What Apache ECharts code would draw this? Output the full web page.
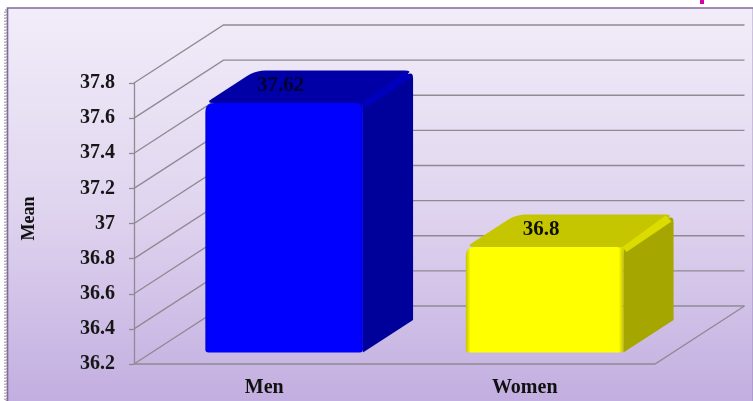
<!DOCTYPE html>
<html>
<head>
<meta charset="utf-8">
<style>html,body{margin:0;padding:0;background:#fff}#chart{width:753px;height:401px}</style>
<script src="https://cdn.jsdelivr.net/npm/echarts@6/dist/echarts.min.js"></script>
</head>
<body>
<div id="chart"></div>
<script>
// Mean value by group, shown as extruded columns in a box-shaped plot
const categories = ['Men', 'Women'];
const meanValues = [37.62, 36.8];
const tickValues = [36.2, 36.4, 36.6, 36.8, 37, 37.2, 37.4, 37.6, 37.8];

const FONT = '"Liberation Serif", "DejaVu Serif", serif';
const DEPTH_X = 89.5, DEPTH_Y = -58;     // front-to-back offset of the plot box
const BAR_NEAR = 0.2, BAR_FAR = 0.76;    // column extent along the depth, as fractions of it
const BAR_WIDTH = 0.605;                 // column width, as a fraction of a category band
const BAR_NUDGE = 2;                     // sideways shift of the columns within their band

const palettes = [
  { edge: '#0000e6', front: '#0000ff', top: '#0000a6', side: '#00009a', ridge: '#0000bc', label: '#000030' },
  { edge: '#c4c400', front: '#ffff00', top: '#c6c600', side: '#a6a600', ridge: '#dcdc00', label: '#111100' }
];

// Polygon whose corners are replaced by short quadratic arcs
function rounded(points, radii) {
  const out = [];
  const n = points.length;
  for (let i = 0; i < n; i++) {
    const p = points[i], a = points[(i + n - 1) % n], b = points[(i + 1) % n];
    const r = radii[i];
    if (!r) { out.push(p); continue; }
    const la = Math.hypot(a[0] - p[0], a[1] - p[1]), lb = Math.hypot(b[0] - p[0], b[1] - p[1]);
    const s = [p[0] + (a[0] - p[0]) * r / la, p[1] + (a[1] - p[1]) * r / la];
    const e = [p[0] + (b[0] - p[0]) * r / lb, p[1] + (b[1] - p[1]) * r / lb];
    for (let t = 0; t <= 1.001; t += 0.2) {
      const u = 1 - t;
      out.push([u * u * s[0] + 2 * u * t * p[0] + t * t * e[0], u * u * s[1] + 2 * u * t * p[1] + t * t * e[1]]);
    }
  }
  return out;
}

function renderColumn(params, api) {
  const idx = api.value(0), val = api.value(1);
  const c = palettes[idx];
  const top = api.coord([idx, val]), base = api.coord([idx, tickValues[0]]);
  const half = api.size([1, 0])[0] * BAR_WIDTH / 2;
  const nx = DEPTH_X * BAR_NEAR + BAR_NUDGE, ny = DEPTH_Y * BAR_NEAR;
  const dx = DEPTH_X * (BAR_FAR - BAR_NEAR), dy = DEPTH_Y * (BAR_FAR - BAR_NEAR);
  const L = top[0] - half + nx, R = top[0] + half + nx;
  const T = top[1] + ny, B = base[1] + ny;
  const poly = (points, fill) => ({ type: 'polygon', shape: { points }, style: { fill } });
  const frontFill = new echarts.graphic.LinearGradient(0, 0, 1, 0, [
    { offset: 0, color: c.edge }, { offset: 0.03, color: c.front },
    { offset: 0.97, color: c.front }, { offset: 1, color: c.edge }
  ]);
  return {
    type: 'group',
    children: [
      poly(rounded([[L, T], [L + dx, T + dy], [R + dx, T + dy], [R, T]], [8, 10, 8, 0]), c.top),
      poly(rounded([[R, T], [R + dx, T + dy], [R + dx, B + dy], [R, B]], [0, 8, 0, 0]), c.side),
      poly([[R - 1, T], [R + dx - 8, T + dy + 1], [R + dx - 2, T + dy + 7], [R + 3, T + 5]], c.ridge),
      // backing so the rounded front corner shows the ridge colour behind it
      poly([[R - 10, T], [R, T], [R, T + 10], [R - 10, T + 10]], c.ridge),
      poly(rounded([[L, T], [R, T], [R, B], [L, B]], [9, 8, 3, 3]), frontFill),
      {
        type: 'text',
        x: L + half - 3.5,
        y: T - 17.5,
        style: {
          text: String(val), fill: c.label, align: 'center', verticalAlign: 'middle',
          font: 'bold 21px ' + FONT
        }
      }
    ]
  };
}

// One wall line per tick: slanted on the side wall, then level across the back wall
function renderWallLine(params, api) {
  const v = api.value(0);
  const f = api.coord([0, v]);
  const box = params.coordSys;
  const x0 = box.x, x1 = box.x + box.width;
  const bx = x0 + DEPTH_X, by = f[1] + DEPTH_Y;
  const style = { stroke: '#8f8a92', lineWidth: 1.3, fill: 'none' };
  const children = [
    { type: 'polyline', shape: { points: [[x0, f[1]], [bx, by], [x1 + DEPTH_X, by]] }, style }
  ];
  if (v === tickValues[0]) {
    children.push({ type: 'polyline', shape: { points: [[x0, f[1]], [x1, f[1]], [x1 + DEPTH_X, by]] }, style });
  }
  return { type: 'group', children };
}

const chart = echarts.init(document.getElementById('chart'), null, { renderer: 'canvas' });
chart.setOption({
  animation: false,
  backgroundColor: '#ffffff',
  graphic: [
    { type: 'rect', z: -10, shape: { x: 5, y: 10, width: 2, height: 391 },
      style: { fill: 'none', stroke: '#6d6a70', lineWidth: 1, lineDash: [1.5, 1.5] } },
    { type: 'rect', z: -9, shape: { x: 7.5, y: 8, width: 746, height: 394 },
      style: {
        stroke: '#7d6a9f', lineWidth: 1.6,
        fill: new echarts.graphic.LinearGradient(0, 0, 0, 1, [
          { offset: 0, color: '#f2edf9' }, { offset: 0.5, color: '#e0d5ef' }, { offset: 1, color: '#c2aee0' }
        ])
      } },
    { type: 'rect', z: -8, shape: { x: 700, y: 0, width: 4, height: 4 }, style: { fill: '#d400a8' } }
  ],
  grid: { left: 134, top: 83, width: 521, height: 281, containLabel: false },
  xAxis: {
    type: 'category',
    data: categories,
    axisLine: { show: false },
    axisTick: { show: false },
    axisLabel: {
      margin: 14, color: '#111', fontFamily: FONT, fontWeight: 'bold', fontSize: 20,
      formatter: v => v
    }
  },
  yAxis: {
    type: 'value',
    min: tickValues[0],
    max: tickValues[tickValues.length - 1],
    interval: 0.2,
    name: 'Mean',
    nameLocation: 'middle',
    nameRotate: 90,
    nameGap: 96,
    nameTextStyle: { color: '#111', fontFamily: FONT, fontWeight: 'bold', fontSize: 18, padding: [0, 0, 0, 10] },
    axisLine: { show: true, lineStyle: { color: '#8f8a92', width: 1.3 } },
    axisTick: { show: true, length: 5, lineStyle: { color: '#8f8a92', width: 1.3 } },
    splitLine: { show: false },
    axisLabel: {
      margin: 19, color: '#161616', fontFamily: FONT, fontWeight: 'bold', fontSize: 20,
      padding: [6, 0, 0, 0],
      formatter: v => String(+v.toFixed(1))
    }
  },
  series: [
    {
      type: 'custom',
      coordinateSystem: 'cartesian2d',
      data: tickValues.map(v => [v]),
      encode: { y: 0 },
      renderItem: renderWallLine,
      clip: false,
      silent: true,
      z: 1
    },
    {
      type: 'custom',
      coordinateSystem: 'cartesian2d',
      data: meanValues.map((v, i) => [i, v]),
      encode: { x: 0, y: 1 },
      renderItem: renderColumn,
      clip: false,
      silent: true,
      z: 2
    }
  ]
});
</script>
</body>
</html>
